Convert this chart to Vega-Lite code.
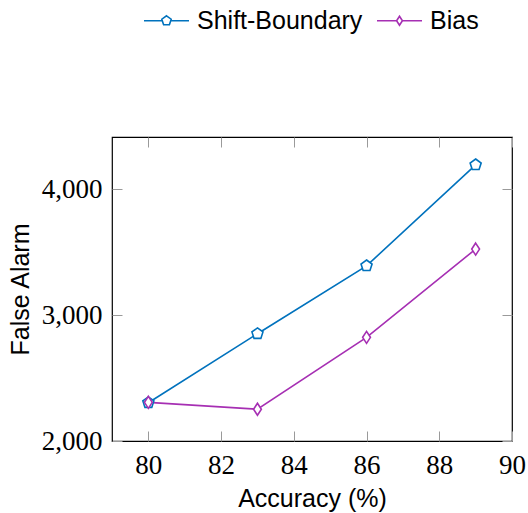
{
  "$schema": "https://vega.github.io/schema/vega-lite/v6.json",
  "width": 400,
  "height": 304,
  "autosize": "none",
  "padding": {"left": 112, "top": 137, "right": 16, "bottom": 72},
  "background": "white",
  "config": {
    "view": {"stroke": "black", "strokeWidth": 1.2},
    "axis": {"grid": false, "domain": false, "tickColor": "#9a9a9a", "tickWidth": 1, "labelFlush": false, "labelOverlap": false,
      "labelFont": "Liberation Serif", "labelFontSize": 27, "labelColor": "black",
      "titleFont": "Liberation Sans", "titleFontSize": 25, "titleFontWeight": "normal", "titleColor": "black"},
    "axisX": {"labelFont": "Liberation Serif", "labelFontSize": 27}
  },
  "data": {
    "values": [
      {"accuracy": 80, "alarm": 2304, "method": "Shift-Boundary"},
      {"accuracy": 83, "alarm": 2852, "method": "Shift-Boundary"},
      {"accuracy": 86, "alarm": 3391, "method": "Shift-Boundary"},
      {"accuracy": 89, "alarm": 4193, "method": "Shift-Boundary"},
      {"accuracy": 80, "alarm": 2307, "method": "Bias"},
      {"accuracy": 83, "alarm": 2252, "method": "Bias"},
      {"accuracy": 86, "alarm": 2823, "method": "Bias"},
      {"accuracy": 89, "alarm": 3524, "method": "Bias"}
    ]
  },
  "resolve": {"axis": {"x": "independent", "y": "independent"}},
  "layer": [
    {
      "mark": {"type": "line", "strokeWidth": 1.6},
      "encoding": {
        "x": {"field": "accuracy", "type": "quantitative",
          "scale": {"domain": [79, 90], "nice": false, "zero": false},
          "axis": {"orient": "bottom", "values": [80, 82, 84, 86, 88, 90], "tickSize": -10, "labelPadding": 21,
            "labelFont": "Liberation Serif", "labelFontSize": 27,
            "title": "Accuracy (%)", "titlePadding": 8}},
        "y": {"field": "alarm", "type": "quantitative",
          "scale": {"domain": [2000, 4414], "nice": false, "zero": false},
          "axis": {"orient": "left", "values": [2000, 3000, 4000], "format": ",d", "tickSize": -10, "labelPadding": 20,
            "title": "False Alarm", "titlePadding": 8}},
        "color": {"field": "method", "type": "nominal",
          "scale": {"domain": ["Shift-Boundary", "Bias"], "range": ["#0072BD", "#A62FB3"]},
          "legend": {"orient": "none", "legendX": 31, "legendY": -140, "direction": "horizontal", "title": null,
            "labelFont": "Liberation Sans", "labelFontSize": 25, "labelColor": "black", "labelOffset": 7, "labelLimit": 0,
            "symbolSize": 2025, "symbolStrokeWidth": 1.6, "columnPadding": 10,
            "encode": {"symbols": {"update": {
              "shape": {"signal": "datum.value === 'Shift-Boundary' ? 'M-1,0H-0.21M0.21,0H1M0,-0.22L0.209,-0.068L0.129,0.178L-0.129,0.178L-0.209,-0.068Z' : 'M-1,0H-0.13M0.13,0H1M0,-0.2L0.13,0L0,0.2L-0.13,0Z'"},
              "fill": {"value": "white"},
              "fillOpacity": {"value": 1}
            }}}}}
      }
    },
    {
      "transform": [{"filter": "datum.method === 'Shift-Boundary'"}],
      "mark": {"type": "point", "filled": false, "fill": "white", "fillOpacity": 1, "strokeWidth": 1.6, "size": 135, "opacity": 1,
        "shape": "M0,-1L0.951,-0.309L0.588,0.809L-0.588,0.809L-0.951,-0.309Z"},
      "encoding": {
        "x": {"field": "accuracy", "type": "quantitative",
          "axis": {"orient": "top", "values": [80, 82, 84, 86, 88, 90], "tickSize": -10, "labels": false, "title": null}},
        "y": {"field": "alarm", "type": "quantitative",
          "axis": {"orient": "right", "values": [2000, 3000, 4000], "tickSize": -10, "labels": false, "title": null}},
        "color": {"field": "method", "type": "nominal", "legend": null}
      }
    },
    {
      "transform": [{"filter": "datum.method === 'Bias'"}],
      "mark": {"type": "point", "filled": false, "fill": "white", "fillOpacity": 1, "strokeWidth": 1.6, "size": 144, "opacity": 1,
        "shape": "M0,-1L0.65,0L0,1L-0.65,0Z"},
      "encoding": {
        "x": {"field": "accuracy", "type": "quantitative", "axis": null},
        "y": {"field": "alarm", "type": "quantitative", "axis": null},
        "color": {"field": "method", "type": "nominal", "legend": null}
      }
    }
  ]
}
